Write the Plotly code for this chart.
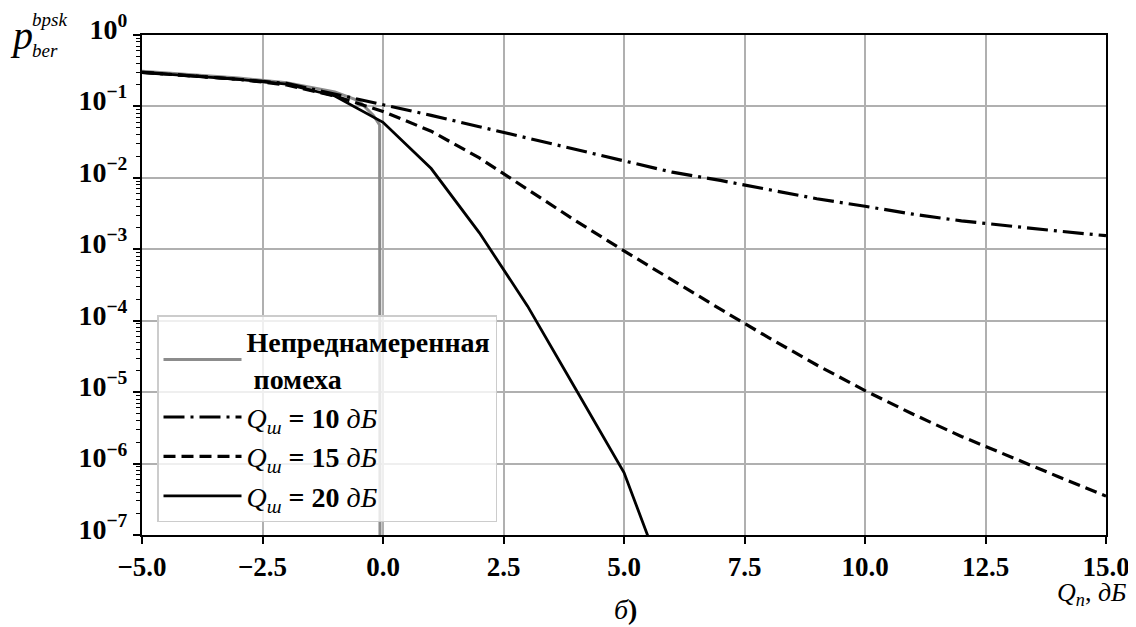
import plotly.graph_objects as go

# ---- data ----
x_int = [-5, -4, -3, -2, -1, 0, 1, 2, 3, 4, 5, 6, 7, 8, 9, 10, 11, 12, 13, 14, 15]
ber_q10 = [0.30, 0.27, 0.24, 0.21, 0.15, 0.105, 0.075, 0.052, 0.036, 0.025, 0.017,
           0.012, 0.0092, 0.0068, 0.0051, 0.0040, 0.0031, 0.0025, 0.0021, 0.0018, 0.00155]
ber_q15 = [0.30, 0.27, 0.24, 0.20, 0.14, 0.085, 0.045, 0.019, 0.0068, 0.0025, 0.00095,
           0.00037, 0.000145, 5.8e-5, 2.4e-5, 1.05e-5, 4.9e-6, 2.4e-6, 1.25e-6, 6.6e-7, 3.5e-7]
x_q20 = [-5, -4, -3, -2, -1, 0, 1, 2, 3, 4, 5, 6]
ber_q20 = [0.30, 0.27, 0.24, 0.205, 0.14, 0.06, 0.0135, 0.0017, 0.00016, 1.1e-5, 7.5e-7, 1.2e-8]
x_unint = [-5, -4, -3, -2, -1, -0.5, -0.2, -0.12, -0.07, -0.06]
ber_unint = [0.31, 0.28, 0.25, 0.215, 0.16, 0.12, 0.075, 0.062, 0.055, 1e-9]

x_ticks = [-5.0, -2.5, 0.0, 2.5, 5.0, 7.5, 10.0, 12.5, 15.0]
x_ticktext = ["−5.0", "−2.5", "0.0", "2.5", "5.0", "7.5", "10.0", "12.5", "15.0"]
y_exps = [0, -1, -2, -3, -4, -5, -6, -7]

legend_names = ["<b>Непреднамеренная<br> помеха</b>",
                "<i>Q</i><sub><i>ш</i></sub><b> = 10</b> <i>дБ</i>",
                "<i>Q</i><sub><i>ш</i></sub><b> = 15</b> <i>дБ</i>",
                "<i>Q</i><sub><i>ш</i></sub><b> = 20</b> <i>дБ</i>"]

FONT = "Liberation Serif"
# plot-area edges in screen pixels; the page body adds an 8 px offset
OFF = 8
L, R, T, B = 142, 1106, 35, 535
SW, SH = 1136, 627
W, H = SW - OFF, SH - OFF


def px(x):
    return (x - L) / (R - L)


def py(y):
    return (B - y) / (B - T)


fig = go.Figure()
fig.add_trace(go.Scatter(x=x_unint, y=ber_unint, mode="lines", name=legend_names[0],
                         line=dict(color="#8c8c8c", width=3), legendgroup="a"))
fig.add_trace(go.Scatter(x=x_int, y=ber_q10, mode="lines", name=legend_names[1],
                         line=dict(color="black", width=3.2, dash="21px,6px,3px,6px"),
                         legendgroup="b"))
fig.add_trace(go.Scatter(x=x_int, y=ber_q15, mode="lines", name=legend_names[2],
                         line=dict(color="black", width=3.2, dash="12px,6px"), legendgroup="c"))
fig.add_trace(go.Scatter(x=x_q20, y=ber_q20, mode="lines", name=legend_names[3],
                         line=dict(color="black", width=2.8), legendgroup="d"))

fig.update_layout(
    width=W, height=H,
    margin=dict(l=L - OFF, r=SW - R, t=T - OFF, b=SH - B, autoexpand=False),
    paper_bgcolor="white", plot_bgcolor="white",
    font=dict(family=FONT, color="black", size=20),
    showlegend=True,
    legend=dict(x=px(157), y=py(315), xanchor="left", yanchor="top",
                bgcolor="rgba(255,255,255,0.8)", bordercolor="#cccccc", borderwidth=1.5,
                font=dict(family=FONT, size=28, color="black"),
                tracegroupgap=0, itemwidth=78),
)

fig.update_xaxes(range=[-5, 15], tickvals=x_ticks, ticktext=x_ticktext, automargin=False,
                 tickfont=dict(family=FONT, size=27, color="black", weight="bold"),
                 showgrid=True, gridcolor="#b0b0b0", gridwidth=1.5,
                 showline=True, linecolor="black", linewidth=2, mirror=True,
                 ticks="outside", ticklen=7, tickwidth=1.5, tickcolor="black", zeroline=False)

fig.update_yaxes(type="log", range=[-7, 0], automargin=False,
                 tickvals=[10 ** e for e in y_exps],
                 ticktext=["10<sup>%s</sup>" % (str(e).replace("-", "−")) for e in y_exps],
                 tickfont=dict(family=FONT, size=28, color="black", weight="bold"),
                 ticklabelshift=-6,
                 showgrid=True, gridcolor="#b0b0b0", gridwidth=1.5,
                 showline=True, linecolor="black", linewidth=2, mirror=True,
                 ticks="outside", ticklen=7, tickwidth=1.5, tickcolor="black", zeroline=False,
                 minor=dict(ticks="outside", ticklen=4, tickwidth=1, tickcolor="black",
                            dtick="D1", showgrid=False))

ann = [
    dict(text="<i>p</i>", x=px(21), y=py(35), size=40),
    dict(text="<i>bpsk</i>", x=px(49), y=py(20), size=19),
    dict(text="<i>ber</i>", x=px(45), y=py(50), size=19),
    dict(text="<i>Q</i><sub><i>п</i></sub>, <i>дБ</i>", x=px(1091), y=py(594), size=26),
    dict(text="<i>б</i><b>)</b>", x=px(625), y=py(609), size=28),
]
for a in ann:
    fig.add_annotation(text=a["text"], x=a["x"], y=a["y"], xref="paper", yref="paper",
                       xanchor="center", yanchor="middle", showarrow=False,
                       font=dict(family=FONT, size=a["size"], color="black"))

fig.write_html("out.html")
